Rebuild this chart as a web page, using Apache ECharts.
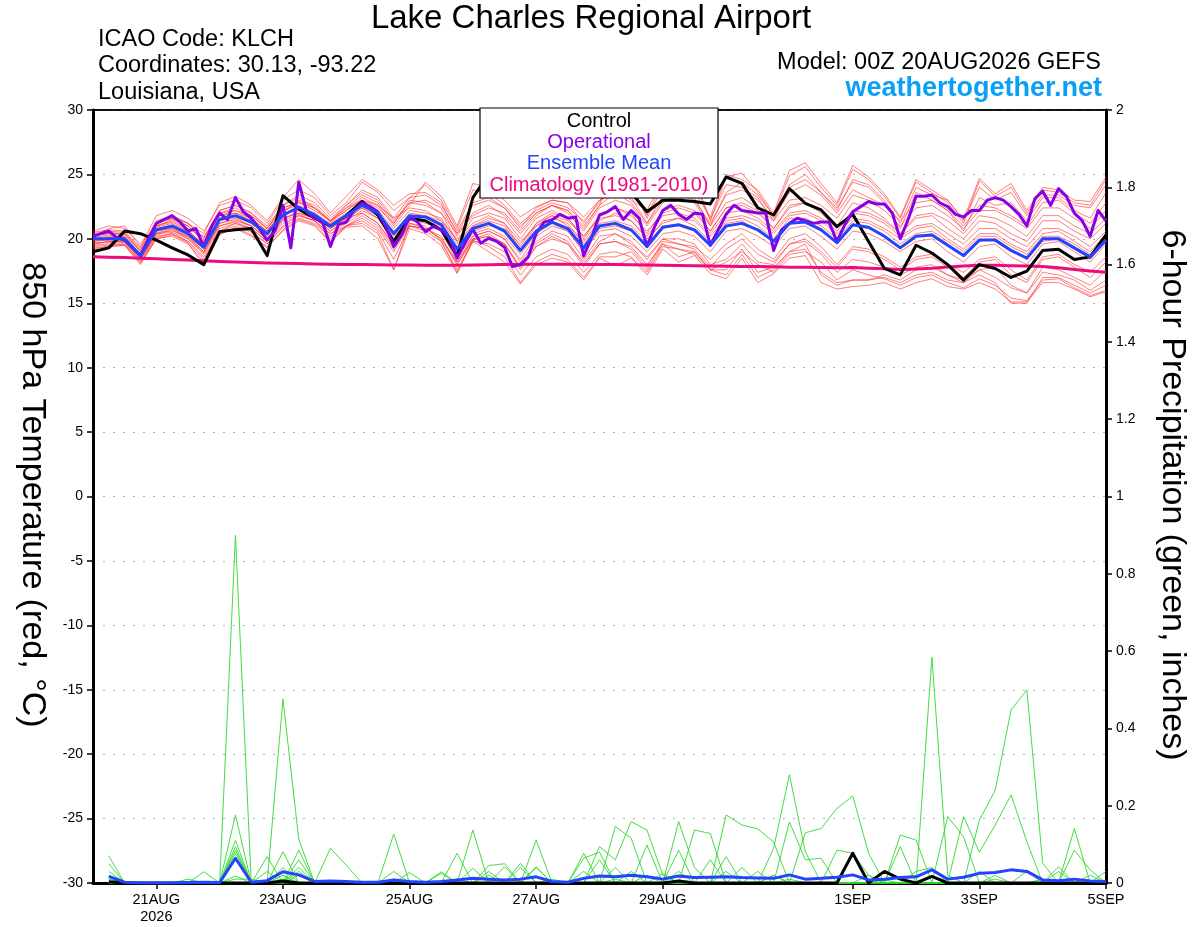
<!DOCTYPE html>
<html>
<head>
<meta charset="utf-8">
<script src="https://cdn.jsdelivr.net/npm/echarts@6/dist/echarts.min.js"></script>
<style>
  html, body { margin: 0; padding: 0; background: #fff; }
  #main { width: 1200px; height: 927px; }
</style>
</head>
<body>
<div id="main"></div>
<script>
// x axis: forecast hour from 00Z 20AUG2026
var xTickHours = [24, 72, 120, 168, 216, 288, 336, 384];
var xTickLabels = ['21AUG\n2026', '23AUG', '25AUG', '27AUG', '29AUG', '1SEP', '3SEP', '5SEP'];

// 850 hPa temperature, 6-hourly, 0..384 h
var tempControl = [
  19.0, 19.3, 20.6, 20.4, 19.9, 19.3, 18.75, 18.0, 20.56, 20.7, 20.8, 18.7, 23.35, 22.3, 21.6, 21.0, 21.8,
  22.9, 21.85, 19.8, 21.6, 21.4, 20.7, 18.67, 23.2,
  25.0, 24.6, 24.2, 24.8, 24.0, 24.4, 24.7, 24.0, 23.8, 23.6,
  22.1, 23.0, 23.0, 22.9, 22.7, 24.8, 24.3, 22.4, 21.85, 23.9, 22.76, 22.24, 20.95, 21.9,
  19.8, 17.7, 17.2, 19.5, 18.9, 18.0, 16.8, 18.0, 17.7, 17.0, 17.5, 19.1, 19.2, 18.4, 18.6, 20.3
];
var tempMean = [
  20.0, 20.0, 20.0, 18.7, 20.7, 21.0, 20.4, 19.35, 21.5, 21.8, 21.3, 20.4, 21.85, 22.45, 21.85, 21.0, 21.8,
  22.6, 22.0, 20.4, 21.8, 21.7, 21.1, 19.2, 20.8, 21.2, 20.6, 19.1, 20.6, 21.3, 20.8, 19.3,
  21.0, 21.2, 20.7, 19.4, 20.9, 21.1, 20.7, 19.5, 21.0, 21.2, 20.7, 19.8, 21.2, 21.3, 20.7, 19.7,
  21.1, 20.9, 20.2, 19.3, 20.2, 20.3, 19.5, 18.7, 19.9, 19.9, 19.1, 18.5, 20.0, 20.0, 19.3, 18.6, 19.9
];
var tempClimo = [
  18.6, 18.58, 18.55, 18.5, 18.45, 18.4, 18.35, 18.3, 18.25, 18.2, 18.17, 18.13, 18.1, 18.08, 18.05, 18.03,
  18.0, 18.0, 17.98, 17.97, 17.96, 17.95, 17.95, 17.95, 17.96, 17.98, 18.0, 18.02, 18.03, 18.03, 18.02, 18.0,
  18.0, 18.0, 17.98, 17.97, 17.95, 17.93, 17.92, 17.9, 17.88, 17.86, 17.85, 17.83, 17.8, 17.8, 17.78, 17.75,
  17.78, 17.72, 17.68, 17.62, 17.65, 17.72, 17.82, 17.9, 17.95, 17.95, 17.92, 17.9, 17.85, 17.75, 17.62, 17.5, 17.4
];
// operational run is 3-hourly
var tempOper = [
  20.2, 20.4, 20.6, 20.1, 19.9, 19.3, 18.7, 20.0, 21.2, 21.5,
  21.8, 21.3, 20.6, 20.8, 19.4, 21.0, 22.0, 21.5, 23.2, 22.1,
  21.6, 20.8, 19.9, 20.6, 22.6, 19.3, 24.4, 22.1, 21.6, 21.3,
  19.4, 21.1, 21.3,
  22.2, 22.8, 22.5, 22.1, 20.95, 19.4, 20.3, 21.7, 21.3, 20.56,
  20.95, 20.7, 20.1, 18.5, 19.66, 20.74, 19.66, 20.04, 19.8, 19.35,
  17.85, 18.0, 18.6, 20.43, 21.3, 21.47, 21.9, 21.6, 21.7, 18.67,
  20.1, 21.85,
  22.1, 22.5, 21.5, 22.2, 21.6, 19.4, 21.0, 22.2, 22.6, 21.9,
  21.5, 22.0, 21.9, 19.5, 20.7, 21.9, 22.6, 22.2, 22.1, 22.0,
  22.0, 19.1, 20.7, 21.2, 21.6, 21.4, 21.2, 21.3, 21.3, 19.8,
  21.1, 22.1,
  22.5, 22.9, 22.7, 22.7, 22.0, 20.0, 21.5, 23.3, 23.3, 23.4,
  22.8, 22.5, 21.9, 21.7, 22.2, 22.2, 23.0, 23.2, 23.0, 22.5,
  21.9, 21.0, 23.1, 23.7, 22.6, 23.9, 23.3, 22.0, 21.4, 20.2,
  22.2, 21.4
];
var tempMembers = [
  [20.4,20.6,20.5,19.2,21.4,21.8,21.2,20.0,22.2,22.6,22.0,21.0,22.6,23.4,22.8,21.6, 22.6,23.6,23.0,21.4,22.8,23.0,22.4,20.2,22.0,22.6,21.8,20.4,21.8,22.6,22.0,20.6, 22.4,23.0,22.6,21.0,22.8,23.4,23.0,21.2,23.4,23.8,23.0,21.6,23.6,24.2,23.4,22.0, 23.8,23.2,22.6,21.4,22.8,23.0,22.2,21.0,22.6,22.4,21.8,21.0,22.8,23.0,22.0,21.2,22.8],
  [19.5,19.6,19.6,18.3,20.2,20.4,19.8,18.6,20.6,21.0,20.5,19.6,20.9,21.6,21.2,20.2, 21.0,21.4,20.6,18.4,21.0,20.6,19.8,17.6,19.8,19.6,19.0,17.2,18.6,19.2,18.8,17.4, 18.8,19.0,18.6,17.4,19.4,19.2,18.8,17.6,18.2,19.0,18.0,17.4,18.8,19.0,18.2,16.8, 17.6,17.2,16.9,16.4,17.0,17.2,16.6,16.2,16.9,16.4,15.4,15.2,16.8,16.9,16.2,15.6,16.0],
  [20.2,20.8,21.0,19.4,21.8,22.2,21.6,20.6,22.6,23.0,22.4,21.2,23.0,23.8,23.2,21.8, 22.8,24.4,23.6,22.2,23.2,24.2,23.0,20.8,23.8,23.6,22.6,21.2,22.2,22.8,22.4,21.4, 22.8,25.1,24.0,21.8,24.4,25.0,24.4,21.4,24.8,25.1,23.6,21.8,24.9,25.6,24.0,22.6, 25.4,24.6,23.3,21.6,24.4,23.6,22.8,21.2,24.5,23.3,24.0,22.0,23.8,23.6,22.8,22.6,24.6],
  [19.8,19.9,19.8,18.5,20.4,20.8,20.1,19.0,21.2,21.5,21.0,20.0,21.6,22.0,21.6,20.6, 21.4,22.2,21.6,20.0,21.6,21.4,20.6,18.6,20.2,20.6,20.0,18.4,20.2,21.0,20.6,19.0, 20.6,20.8,20.2,19.0,20.4,20.6,20.2,19.0,20.6,20.8,20.2,19.4,20.8,21.0,20.2,19.2, 20.6,20.4,19.8,19.0,19.8,20.0,19.0,18.2,19.4,19.6,18.6,18.0,19.6,19.8,19.0,18.2,19.6],
  [20.6,21.0,20.8,19.6,21.0,21.4,20.8,20.2,21.8,22.2,21.8,20.8,22.4,22.8,22.2,21.4, 22.2,23.2,22.6,21.6,22.4,22.2,21.4,20.0,21.2,21.8,21.2,19.8,21.0,21.8,21.4,20.2, 21.6,21.8,21.4,20.2,21.8,22.0,21.6,20.4,22.0,22.2,21.6,20.6,22.0,22.2,21.6,20.6, 22.0,21.8,21.2,20.2,21.0,21.2,20.4,19.6,20.8,20.8,20.0,19.4,20.8,20.8,20.2,19.4,20.6],
  [19.3,19.4,19.5,18.0,20.0,20.3,19.7,17.9,20.3,20.9,20.3,19.3,20.7,21.5,21.1,19.8, 20.9,21.0,20.0,17.6,20.8,20.4,19.5,17.3,19.8,19.0,18.2,16.5,18.0,18.5,18.2,16.8, 18.5,17.9,18.5,17.2,19.2,18.2,18.7,17.3,16.9,18.5,16.6,17.3,18.5,18.7,16.6,16.1, 16.3,16.4,16.6,16.1,16.6,16.9,16.3,16.1,16.6,16.1,15.1,15.1,16.6,16.6,16.1,15.5,15.9],
  [20.3,20.4,20.3,19.0,21.0,21.5,21.0,19.8,22.0,22.4,21.8,20.8,22.4,22.9,22.4,21.3, 22.2,23.0,22.6,21.0,22.6,24.4,23.3,21.0,24.3,24.0,23.0,21.7,22.5,23.0,22.8,21.7, 23.0,24.0,23.0,22.2,24.6,24.4,23.6,21.7,25.0,24.6,23.8,22.0,25.3,25.9,24.3,22.8, 25.7,24.8,23.5,21.7,24.6,23.8,23.0,21.5,24.7,23.5,24.3,22.2,24.0,23.8,23.0,22.9,24.8],
  [19.9,20.1,20.2,18.8,20.6,20.9,20.3,19.2,21.4,21.7,21.2,20.2,21.8,22.3,21.8,20.8, 21.6,22.4,21.8,20.6,21.6,21.4,21.0,19.4,20.6,21.0,20.8,19.6,21.2,21.8,21.0,19.8, 21.4,22.0,21.4,20.0,21.2,21.6,21.4,20.2,21.6,21.8,21.4,20.4,21.8,22.0,21.4,20.4, 21.6,21.4,20.8,20.0,20.8,21.0,20.0,19.2,20.4,20.4,19.6,19.0,20.4,20.6,19.8,19.0,20.4],
  [20.0,20.2,20.0,18.6,21.2,21.8,21.2,20.4,22.8,23.3,22.6,21.4,23.2,24.6,23.5,22.0, 23.3,24.6,23.8,22.6,23.5,23.6,22.8,20.4,22.6,23.0,22.4,21.0,22.0,22.6,22.2,21.0, 22.6,25.3,24.3,21.6,24.0,25.1,24.6,21.5,24.2,24.0,23.2,21.4,24.0,24.6,23.6,22.4, 24.4,24.0,22.8,20.8,23.6,23.0,22.2,20.6,23.2,22.6,22.8,21.4,23.2,23.2,22.2,21.6,23.6],
  [19.6,19.8,19.7,18.4,20.3,20.7,20.0,18.9,21.0,21.3,20.8,19.8,21.4,21.9,21.4,20.4, 21.2,22.0,21.2,19.4,21.0,20.8,20.0,18.2,20.0,20.2,19.6,17.8,19.6,20.4,19.8,18.0, 19.6,19.8,19.4,18.0,19.6,19.2,19.0,17.6,17.2,18.8,17.0,17.6,19.0,19.6,17.2,16.4, 16.8,16.8,17.0,16.6,17.2,17.4,16.8,16.6,17.2,16.6,15.0,15.0,17.0,17.0,16.4,15.8,16.4],
  [20.1,20.3,20.1,18.6,20.9,21.2,20.6,19.6,21.8,22.0,21.4,20.6,22.2,22.6,22.0,21.2, 22.0,22.8,22.2,20.8,22.2,22.0,21.6,19.8,21.0,21.6,21.2,19.4,21.2,22.0,21.6,20.0, 21.8,22.4,22.0,20.4,22.2,22.6,22.2,20.6,22.4,22.6,22.0,20.8,22.6,22.8,22.0,20.8, 22.2,22.0,21.4,20.4,21.6,21.8,20.8,20.0,21.4,21.2,20.4,19.8,21.4,21.4,20.6,20.0,21.2],
  [19.4,19.5,19.6,18.2,20.0,20.2,19.6,18.2,20.4,20.8,20.2,19.4,20.6,21.4,21.0,19.7, 21.0,21.6,20.8,19.0,21.0,20.8,20.2,18.0,20.0,20.4,19.6,17.8,19.4,20.2,19.6,18.2, 19.8,20.4,19.6,18.6,20.0,19.6,19.4,18.4,19.6,20.4,19.2,18.4,20.0,20.4,19.4,18.0, 19.4,19.2,18.6,17.8,18.6,18.8,18.0,17.4,18.4,18.6,17.6,16.8,18.6,18.8,18.0,17.4,18.6],
  [20.2,20.5,20.4,19.0,21.2,21.6,21.0,19.8,22.0,22.2,21.6,20.6,22.0,23.0,22.6,21.4, 22.4,23.4,22.8,21.2,23.0,22.8,22.0,20.4,21.8,22.4,22.0,20.6,22.0,22.6,22.2,20.8, 22.6,23.6,23.2,21.2,23.4,23.8,23.2,21.0,23.6,24.4,23.4,21.8,24.2,25.0,23.6,22.2, 24.6,24.2,23.0,21.2,24.0,23.4,23.0,21.4,24.0,23.0,23.6,21.8,23.4,23.4,22.6,22.4,24.2],
  [19.7,19.7,19.9,18.5,20.5,20.6,20.2,19.2,21.0,21.4,21.0,20.0,21.5,22.2,21.6,20.6, 21.5,22.4,21.6,20.2,21.5,21.2,20.8,19.0,20.4,20.8,20.2,18.8,20.4,21.2,20.6,19.0, 20.8,21.0,20.6,19.6,21.0,21.0,20.6,19.6,21.2,21.4,20.6,19.8,21.2,21.4,20.8,19.6, 21.0,20.8,20.2,19.4,20.2,20.4,19.6,18.6,19.8,20.0,19.2,18.4,19.8,20.0,19.2,18.4,19.8],
  [19.2,19.4,19.5,18.1,20.1,20.4,19.8,18.4,20.6,21.2,20.6,19.6,21.0,21.8,21.4,20.0, 21.0,21.2,20.4,17.6,21.2,21.0,19.8,17.4,19.9,19.4,18.6,16.6,18.2,18.8,18.4,17.0, 18.6,18.6,19.0,17.6,19.6,18.6,19.0,17.6,17.6,19.2,17.4,17.8,19.0,19.2,17.4,16.6, 16.8,16.8,17.2,16.8,17.6,17.8,17.2,16.8,17.6,17.0,16.2,15.8,17.4,17.2,16.8,16.0,16.8],
  [20.5,20.7,20.6,19.3,21.2,21.6,21.2,20.1,22.2,22.6,22.0,20.8,22.6,23.2,22.4,21.4, 22.6,23.8,23.2,21.6,23.2,23.4,22.6,20.6,22.8,23.2,22.4,20.8,22.4,23.0,22.8,21.2, 23.0,23.6,22.8,21.2,23.0,23.2,22.8,21.0,22.8,23.2,22.4,21.4,23.0,23.2,22.6,21.6, 23.4,23.0,22.2,21.0,22.4,22.6,21.8,20.8,22.2,22.2,21.6,20.8,22.4,22.4,21.6,20.8,22.2],
  [19.8,20.0,20.1,18.7,20.8,21.0,20.6,19.5,21.6,21.8,21.4,20.4,21.9,22.4,22.0,21.0, 21.9,22.6,22.0,20.4,22.0,21.8,21.4,19.6,21.0,21.4,21.0,19.2,21.0,21.6,21.2,19.6, 21.2,21.4,21.0,19.8,21.4,21.6,21.0,19.8,21.4,21.6,21.0,20.0,21.6,21.6,21.0,20.0, 21.4,21.2,20.6,19.6,20.4,20.6,19.8,19.0,20.2,20.2,19.4,18.8,20.2,20.2,19.6,18.8,20.2],
  [20.0,20.0,19.9,18.6,20.6,20.8,20.2,19.0,21.2,21.6,21.0,20.0,21.6,22.0,21.6,20.8, 21.6,22.0,21.2,19.6,21.4,21.4,20.6,18.2,20.2,20.6,20.0,18.2,19.8,20.6,20.2,18.4, 20.2,20.4,19.8,18.4,20.0,20.0,19.6,18.0,18.4,19.6,18.2,18.0,19.6,19.8,18.8,17.4, 18.4,18.2,17.8,17.2,17.8,18.0,17.2,16.6,17.6,17.8,16.4,15.8,17.8,17.6,17.0,16.4,17.6],
  [20.3,20.4,20.4,19.1,21.0,21.3,20.7,19.4,21.6,22.0,21.6,20.6,22.2,22.8,22.4,21.4, 22.4,23.0,22.4,21.2,22.8,22.6,22.0,19.8,21.6,22.0,21.6,20.0,21.6,22.2,21.6,20.2, 21.8,22.4,21.8,20.6,22.0,22.4,22.0,20.6,22.4,22.8,22.2,20.8,22.4,22.8,22.2,21.0, 22.8,22.4,21.6,20.4,21.8,22.0,21.4,20.4,21.8,21.6,21.0,20.2,21.8,21.8,21.0,20.4,21.6],
  [19.6,19.8,19.8,18.4,20.4,20.5,20.0,18.8,20.8,21.2,20.8,19.8,21.2,21.8,21.4,20.4, 21.0,21.8,21.0,19.2,21.2,20.8,20.0,18.0,19.9,20.2,19.6,17.6,19.4,20.0,19.6,17.8, 19.6,19.8,19.2,17.8,19.8,19.6,19.2,17.8,19.2,20.0,18.8,18.2,19.6,20.0,19.0,17.8, 19.2,19.0,18.4,17.6,18.4,18.6,17.8,17.0,18.2,18.4,17.2,16.6,18.4,18.6,17.8,17.0,18.2]
];

// 6-hour precipitation (inches), 6..384 h
var precipControl = [
  0.003,0,0,0,0,0,0,0,0,0,0,0.005,0,0,0,0,
  0,0,0,0,0,0,0,0,0,0,0,0,0,0,0,0,
  0,0,0,0,0.005,0,0,0,0,0,0,0,0,0,0,0.077,
  0,0.03,0.01,0,0.017,0,0,0,0,0,0,0,0,0,0,0
];
var precipMean = [
  0.017,0.002,0,0,0,0.001,0.002,0.001,0.064,0.002,0.006,0.029,0.021,0.004,0.005,0.004,
  0.002,0.002,0.008,0.004,0.002,0.004,0.008,0.012,0.01,0.008,0.01,0.016,0.004,0.002,0.012,0.018,
  0.016,0.02,0.016,0.01,0.018,0.014,0.015,0.016,0.014,0.013,0.012,0.021,0.01,0.012,0.015,0.021,
  0.008,0.01,0.014,0.016,0.034,0.01,0.015,0.025,0.027,0.034,0.03,0.008,0.006,0.01,0.005,0.004
];
var precipMembers = [
  [0.07,0,0,0,0,0,0,0,0.90,0,0,0,0.04,0,0,0, 0,0,0,0,0,0,0,0.137,0,0,0,0,0,0,0,0, 0.146,0.116,0,0,0,0,0,0,0,0,0.09,0.28,0.081,0,0,0, 0,0,0,0,0.584,0.02,0,0,0,0,0,0,0,0,0,0],
  [0.05,0,0,0,0,0,0,0,0.176,0,0,0.476,0.113,0,0,0, 0,0,0.127,0,0,0,0,0,0,0,0,0.111,0,0,0,0, 0,0,0,0,0.159,0.04,0,0,0,0,0,0,0,0,0,0, 0,0,0,0,0,0,0,0.163,0.24,0.448,0.499,0.051,0,0,0,0],
  [0.03,0,0,0,0,0,0,0,0.11,0,0,0.081,0,0,0.09,0.046, 0,0,0,0,0,0,0,0,0,0,0,0,0,0,0,0.094, 0.06,0.159,0.137,0.02,0,0,0,0,0,0,0,0,0.13,0.141,0.193,0.225, 0.077,0,0,0,0,0,0,0,0,0,0,0,0,0.141,0,0],
  [0.02,0,0,0,0,0,0,0,0.094,0,0,0,0.085,0,0,0, 0,0,0,0,0,0,0.077,0,0,0,0,0,0,0,0.077,0, 0,0,0,0,0,0,0,0.176,0.15,0.14,0.106,0,0,0,0,0, 0,0,0,0,0,0,0.172,0.08,0.15,0.228,0.107,0,0,0,0,0],
  [0,0,0,0,0,0,0,0,0.085,0,0.068,0,0,0,0,0, 0,0,0,0,0,0,0,0,0,0,0.051,0,0,0,0.064,0.08, 0,0,0,0,0,0.137,0.128,0,0,0,0,0,0,0,0,0, 0,0,0.124,0.111,0,0,0,0,0,0,0,0,0,0,0,0.03],
  [0,0,0,0,0,0,0,0,0.077,0,0,0,0.06,0,0,0, 0,0,0,0,0,0.029,0,0,0,0.042,0,0,0,0,0,0, 0,0,0.098,0,0.085,0,0,0,0,0,0,0.158,0.06,0.064,0,0, 0,0,0,0,0,0.172,0.12,0,0,0,0,0,0,0,0,0],
  [0,0,0,0,0,0,0.029,0,0.018,0,0,0.04,0,0,0,0, 0,0,0,0.027,0,0,0,0,0.045,0.05,0,0,0,0,0,0, 0,0,0,0,0,0,0,0.068,0,0,0.02,0,0,0,0.085,0.077, 0.02,0,0,0,0,0,0,0,0,0,0.03,0,0,0.085,0.034,0],
  [0.01,0,0,0,0,0,0,0,0,0,0.03,0,0,0,0,0, 0,0,0,0,0,0,0,0.038,0,0,0,0.042,0,0,0,0, 0.04,0,0,0,0,0,0.06,0,0,0,0,0,0,0,0,0, 0,0,0.094,0,0,0,0,0.03,0,0,0,0,0.042,0,0,0],
  [0,0,0,0,0,0.01,0,0,0,0,0,0,0.03,0,0,0, 0,0,0,0,0,0.025,0,0,0,0,0.04,0,0,0,0,0.06, 0,0,0,0.025,0,0,0,0,0,0,0,0,0,0,0,0, 0.02,0,0,0.03,0.04,0,0,0,0,0,0,0,0.03,0,0.02,0],
  [0,0,0,0,0,0,0,0,0,0,0,0.02,0,0,0,0, 0,0,0.03,0,0,0,0,0,0.03,0,0,0.04,0,0,0.03,0, 0,0.03,0,0,0,0,0,0.03,0,0.03,0,0,0,0,0,0, 0,0.008,0,0,0,0,0,0,0,0,0,0.01,0,0,0,0],
  [0,0,0,0,0,0,0,0,0.01,0.01,0,0.01,0,0,0,0, 0,0,0.01,0,0,0,0.01,0,0,0,0,0,0.01,0,0,0, 0,0,0.02,0,0.03,0,0,0,0.04,0,0.02,0,0,0,0,0, 0,0,0,0,0,0,0,0,0.02,0,0,0,0,0,0,0],
  [0.01,0,0,0,0,0,0,0,0,0,0,0,0.02,0,0,0, 0,0,0,0,0,0,0,0,0.02,0,0,0,0,0,0,0, 0.01,0,0,0,0,0,0,0,0,0,0,0.01,0,0,0,0, 0,0,0,0,0,0,0,0,0.01,0,0,0,0,0,0,0]
];

var FONT = '"Liberation Sans", Arial, Helvetica, sans-serif';

function toPairs(vals, step, start) {
  return vals.map(function (v, i) { return [start + i * step, v]; });
}

function lineSeries(vals, step, start, axis, color, width, z) {
  return {
    type: 'line',
    data: toPairs(vals, step, start),
    yAxisIndex: axis,
    showSymbol: false,
    symbol: 'none',
    silent: true,
    z: z,
    lineStyle: { color: color, width: width, join: 'round' }
  };
}

var series = [];
tempMembers.forEach(function (m) {
  series.push(lineSeries(m, 6, 0, 0, 'rgba(255,40,40,0.75)', 0.8, 2));
});
precipMembers.forEach(function (m) {
  series.push(lineSeries(m, 6, 6, 1, '#2fd82f', 0.9, 2));
});
series.push(lineSeries(tempClimo, 6, 0, 0, '#ec0c80', 3, 4));
series.push(lineSeries(tempControl, 6, 0, 0, '#000000', 3, 5));
series.push(lineSeries(tempOper, 3, 0, 0, '#8a00e6', 3, 6));
series.push(lineSeries(tempMean, 6, 0, 0, '#2244ff', 3, 7));
series.push(lineSeries(precipControl, 6, 6, 1, '#000000', 3, 5));
series.push(lineSeries(precipMean, 6, 6, 1, '#2244ff', 3, 7));

function txt(x, y, text, size, color, align, weight) {
  return {
    type: 'text', x: x, y: y, z: 100,
    style: {
      text: text, fill: color || '#000',
      font: (weight || 'normal') + ' ' + size + 'px ' + FONT,
      textAlign: align || 'left', textVerticalAlign: 'middle'
    }
  };
}

var option = {
  animation: false,
  backgroundColor: '#fff',
  grid: {
    left: 93, right: 94, top: 110, bottom: 44,
    show: true, borderColor: '#000', borderWidth: 1.5, backgroundColor: 'transparent'
  },
  xAxis: {
    type: 'value', min: 0, max: 384,
    axisLine: { onZero: false, lineStyle: { color: '#000', width: 3 } },
    axisTick: { customValues: xTickHours, length: 6, lineStyle: { color: '#000', width: 1.5 } },
    axisLabel: {
      customValues: xTickHours,
      formatter: function (v) { return xTickLabels[xTickHours.indexOf(v)]; },
      color: '#000', fontSize: 14.5, fontFamily: FONT, margin: 8, lineHeight: 17
    },
    splitLine: { show: false }
  },
  yAxis: [
    {
      type: 'value', min: -30, max: 30, interval: 5, position: 'left',
      axisLine: { show: true, onZero: false, lineStyle: { color: '#000', width: 3 } },
      axisTick: { show: true, length: 6, lineStyle: { color: '#000', width: 1.5 } },
      axisLabel: { color: '#000', fontSize: 14, fontFamily: FONT, margin: 10 },
      splitLine: { show: true, lineStyle: { color: '#b0b0b0', width: 1.2, type: [2, 8] } }
    },
    {
      type: 'value', min: 0, max: 2, interval: 0.2, position: 'right',
      axisLine: { show: true, onZero: false, lineStyle: { color: '#000', width: 3 } },
      axisTick: { show: true, length: 6, lineStyle: { color: '#000', width: 1.5 } },
      axisLabel: { color: '#000', fontSize: 14, fontFamily: FONT, margin: 10 },
      splitLine: { show: false }
    }
  ],
  graphic: [
    {
      type: 'line', z: 98,
      shape: { x1: 93, y1: 110, x2: 1106, y2: 110 },
      style: { stroke: '#000', lineWidth: 1.5 }
    },
    txt(591, 19, 'Lake Charles Regional Airport', 33, '#000', 'center'),
    txt(98, 40, 'ICAO Code: KLCH', 23.5),
    txt(98, 66, 'Coordinates: 30.13, -93.22', 23.5),
    txt(98, 93, 'Louisiana, USA', 23.5),
    txt(1101, 63, 'Model: 00Z 20AUG2026 GEFS', 23.5, '#000', 'right'),
    txt(1102, 89, 'weathertogether.net', 27, '#0aa0f5', 'right', 'bold'),
    {
      type: 'rect', z: 99,
      shape: { x: 480, y: 108, width: 238, height: 90 },
      style: { fill: '#fff', stroke: '#000', lineWidth: 1.2 }
    },
    txt(599, 121, 'Control', 20, '#000', 'center'),
    txt(599, 142, 'Operational', 20, '#8a00e6', 'center'),
    txt(599, 163, 'Ensemble Mean', 20, '#2244ff', 'center'),
    txt(599, 185, 'Climatology (1981-2010)', 20, '#ec0c80', 'center'),
    {
      type: 'text', x: 32, y: 495, rotation: -Math.PI / 2, z: 100,
      style: {
        text: '850 hPa Temperature (red, °C)', fill: '#000',
        font: '34px ' + FONT, textAlign: 'center', textVerticalAlign: 'middle'
      }
    },
    {
      type: 'text', x: 1172, y: 495, rotation: -Math.PI / 2, z: 100,
      style: {
        text: '6-hour Precipitation (green, inches)', fill: '#000',
        font: '34px ' + FONT, textAlign: 'center', textVerticalAlign: 'middle'
      }
    }
  ],
  series: series
};

var chart = echarts.init(document.getElementById('main'));
chart.setOption(option);
</script>
</body>
</html>
